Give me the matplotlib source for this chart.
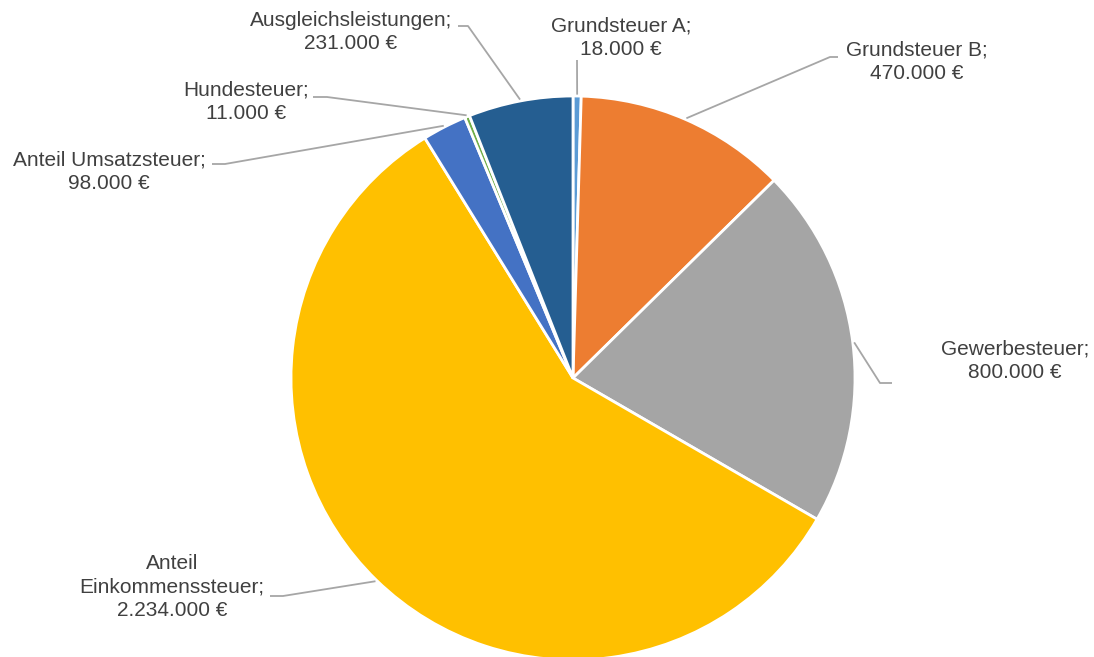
import numpy as np
import matplotlib.pyplot as plt

# Steuereinnahmen
labels = ["Grundsteuer A", "Grundsteuer B", "Gewerbesteuer", "Anteil\nEinkommenssteuer",
          "Anteil Umsatzsteuer", "Hundesteuer", "Ausgleichsleistungen"]
values = [18000, 470000, 800000, 2234000, 98000, 11000, 231000]
colors = ["#5B9BD5", "#ED7D31", "#A5A5A5", "#FFC000", "#4472C4", "#70AD47", "#255E91"]

W, H = 1094, 657
fig = plt.figure(figsize=(W / 100, H / 100), dpi=100)
ax = fig.add_axes([0, 0, 1, 1])

cx, cy, R = 573, H - 378, 282
wedges, _ = ax.pie(values, colors=colors, startangle=90, counterclock=False,
                   center=(cx, cy), radius=R, frame=True,
                   wedgeprops=dict(edgecolor="white", linewidth=2))
ax.set_xlim(0, W)
ax.set_ylim(0, H)
ax.axis("off")

def fmt(v):
    return f"{v:,}".replace(",", ".") + " €"

# label text position, elbow point, end point (pixel coords, y from top)
layout = [
    ((621, 38), None, (577, 60)),
    ((917, 62), (830, 57), (838, 57)),
    ((1015, 361), (880, 383), (892, 383)),
    ((172, 587), (283, 596), (270, 596)),
    ((109, 172), (225, 164), (212, 164)),
    ((246, 102), (327, 97), (313, 97)),
    ((351, 32), (468, 26), (458, 26)),
]

for w, lab, v, (tp, elbow, end) in zip(wedges, labels, values, layout):
    ang = np.deg2rad((w.theta1 + w.theta2) / 2)
    sx, sy = cx + R * 1.005 * np.cos(ang), cy + R * 1.005 * np.sin(ang)
    pts = [(sx, sy)]
    if elbow is not None:
        pts.append((elbow[0], H - elbow[1]))
    pts.append((end[0], H - end[1]))
    xs, ys = zip(*pts)
    ax.plot(xs, ys, color="#A6A6A6", lw=1.3, solid_capstyle="butt")
    ax.text(tp[0], H - tp[1], lab + ";\n" + fmt(v), ha="center", va="center",
            fontsize=15, color="#404040", family=["Liberation Sans", "DejaVu Sans"],
            linespacing=1.3)

fig.savefig("out.png", dpi=100)
